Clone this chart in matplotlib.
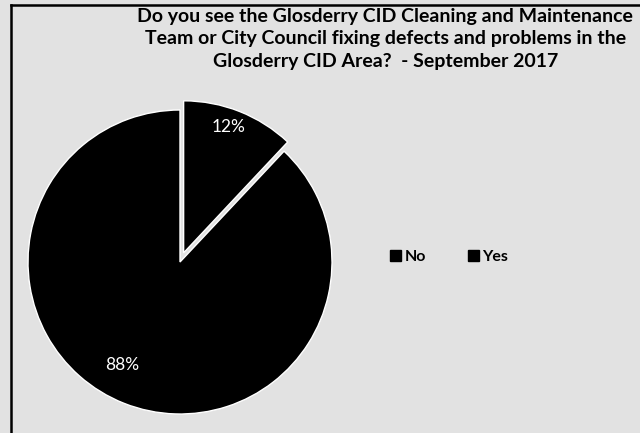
import matplotlib.pyplot as plt
from matplotlib.lines import Line2D
from matplotlib.patches import Patch

labels = ["No", "Yes"]
values = [88, 12]
title = ("Do you see the Glosderry CID Cleaning and Maintenance\n"
         "Team or City Council fixing defects and problems in the\n"
         "Glosderry CID Area?  - September 2017")

W, H = 640, 433
BG = "#e2e2e2"
FONT = ["Lato", "DejaVu Sans"]

fig = plt.figure(figsize=(W / 100, H / 100), dpi=100, facecolor=BG)

# pie axes centred at about (180, 262) px, radius ~152 px
cx, cy, r = 180, 262, 152
lim = 1.25
aw, ah = 2 * lim * r, 2 * lim * r
ax = fig.add_axes([(cx - aw / 2) / W, (H - cy - ah / 2) / H, aw / W, ah / H])
ax.set_facecolor("none")

wedges, texts, autotexts = ax.pie(
    values,
    labels=None,
    colors=["black", "black"],
    startangle=90,
    counterclock=True,
    explode=[0, 0.065],
    autopct=lambda p: "%d%%" % round(p),
    pctdistance=0.8,
    wedgeprops=dict(edgecolor="white", linewidth=1.0),
    textprops=dict(color="white", fontsize=12.5, family=FONT),
)
# nudge the percentage labels toward where they sit in the original
autotexts[0].set_position((-0.38, -0.68))
autotexts[1].set_position((0.32, 0.89))
ax.set_xlim(-lim, lim)
ax.set_ylim(-lim, lim)
ax.axis("off")

fig.text(0.602, 1 - 8 / H, title, ha="center", va="top", fontsize=14, fontweight="bold",
         linespacing=1.38, family=FONT)

handles = [Patch(facecolor="black", edgecolor="black") for _ in labels]
fig.legend(handles, labels, loc="center", bbox_to_anchor=(449 / W, 1 - 257 / H), ncol=2,
           frameon=False, handlelength=0.7, handleheight=0.7, handletextpad=0.2,
           columnspacing=2.6, prop=dict(family=FONT, weight="bold", size=11.5))

# chart frame (left and top edges visible in the scan)
fig.add_artist(Line2D([11 / W, 11 / W], [0, 1 - 5 / H], color="black", lw=1.8))
fig.add_artist(Line2D([11 / W, 1], [1 - 5 / H, 1 - 5 / H], color="black", lw=1.8))

fig.savefig("out.png", dpi=100, facecolor=BG)
